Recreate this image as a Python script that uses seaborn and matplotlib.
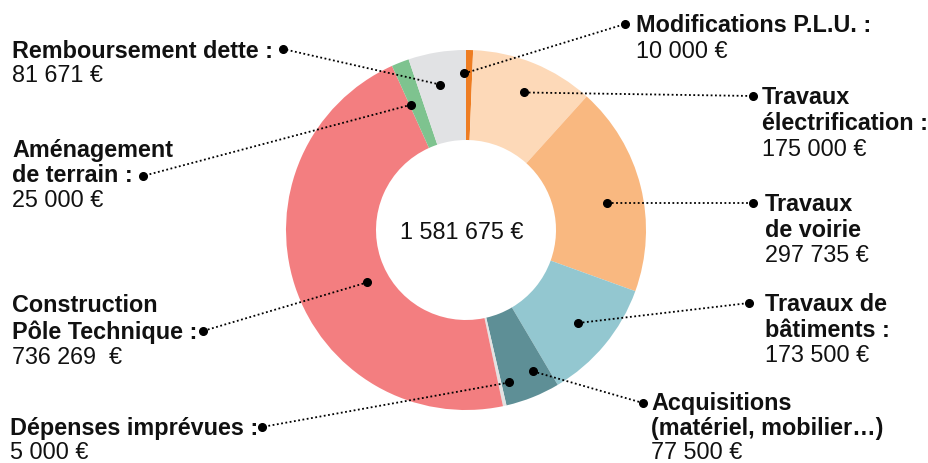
import numpy as np
import matplotlib
matplotlib.use("Agg")
import matplotlib.pyplot as plt
import seaborn as sns

# ---- data ----
categories = ["Modifications P.L.U.", "Travaux électrification", "Travaux de voirie",
              "Travaux de bâtiments", "Acquisitions", "Dépenses imprévues",
              "Construction Pôle Technique", "Aménagement de terrain", "Remboursement dette"]
values = [10000, 175000, 297735, 173500, 77500, 5000, 736269, 25000, 81671]
colors = ["#EE7D22", "#FDD9B8", "#F9B880", "#93C7D0", "#5E8F96",
          "#E2E2E2", "#F37E80", "#7EC38F", "#E1E2E4"]
label_lines = [["Modifications P.L.U. :"],
               ["Travaux", "électrification :"],
               ["Travaux", "de voirie"],
               ["Travaux de", "bâtiments :"],
               ["Acquisitions", "(matériel, mobilier…)"],
               ["Dépenses imprévues :"],
               ["Construction", "Pôle Technique :"],
               ["Aménagement", "de terrain :"],
               ["Remboursement dette :"]]
value_labels = ["10 000 €", "175 000 €", "297 735 €", "173 500 €", "77 500 €",
                "5 000 €", "736 269  €", "25 000 €", "81 671 €"]
total_label = "1 581 675 €"

# ---- layout (pixels) ----
W, H = 929, 464
CX, CY, R = 466, 231, 180
anchor_r = [0.87, 0.83, 0.80, 0.81, 0.87, 0.88, 0.62, 0.76, 0.82]
anchor_da = [1.8, -0.8, -3.2, 0.0, 3.6, 3.3, 9.9, 2.3, 0.7]
ext_dot = [(625, 25), (753, 97), (753, 204), (749, 304), (643, 404),
           (262, 428), (203, 332), (143, 177), (283, 50)]
text_pos = [(636, 26), (762, 98), (765, 205), (765, 305), (651, 404),
            (10, 429), (12, 306), (12, 151), (12, 51)]
line_h = [26, 26, 25.5, 25.5, 24.5, 23.5, 26, 25, 25]

sns.set_theme(style="white")
plt.rcParams["font.family"] = ["Liberation Sans", "DejaVu Sans"]

fig = plt.figure(figsize=(W / 100, H / 100), dpi=100)
fig.patch.set_facecolor("white")
ax = fig.add_axes([(CX - R) / W, (H - CY - R) / H, 2 * R / W, 2 * R / H])
wedges, _ = ax.pie(values, colors=colors, startangle=90, counterclock=False,
                   radius=1, wedgeprops=dict(width=0.5, linewidth=0))
ax.set_xlim(-1, 1)
ax.set_ylim(-1, 1)
ax.set_aspect("equal")
ax.axis("off")

ov = fig.add_axes([0, 0, 1, 1], zorder=3)
ov.set_xlim(0, W)
ov.set_ylim(H, 0)
ov.axis("off")
ov.patch.set_alpha(0)

FS = 16.8
for i, w in enumerate(wedges):
    mid = np.deg2rad((w.theta1 + w.theta2) / 2 + anchor_da[i])
    px = CX + R * anchor_r[i] * np.cos(mid)
    py = CY - R * anchor_r[i] * np.sin(mid)
    ox, oy = ext_dot[i]
    ov.plot([px, ox], [py, oy], color="black", lw=1.3, ls=(0, (1, 1.4)))
    ov.plot([px, ox], [py, oy], "o", color="black", ms=5.5, ls="none")
    tx, ty = text_pos[i]
    lh = line_h[i]
    lines = label_lines[i]
    for j, ln in enumerate(lines):
        ov.text(tx, ty + j * lh, ln, fontsize=FS, fontweight="bold",
                va="center", ha="left", color="#111111")
    ov.text(tx, ty + len(lines) * lh, value_labels[i], fontsize=FS,
            va="center", ha="left", color="#111111")

ov.text(CX - 4, CY + 2, total_label, fontsize=FS, va="center", ha="center",
        color="#111111")

fig.savefig("out.png", dpi=100, facecolor="white")
